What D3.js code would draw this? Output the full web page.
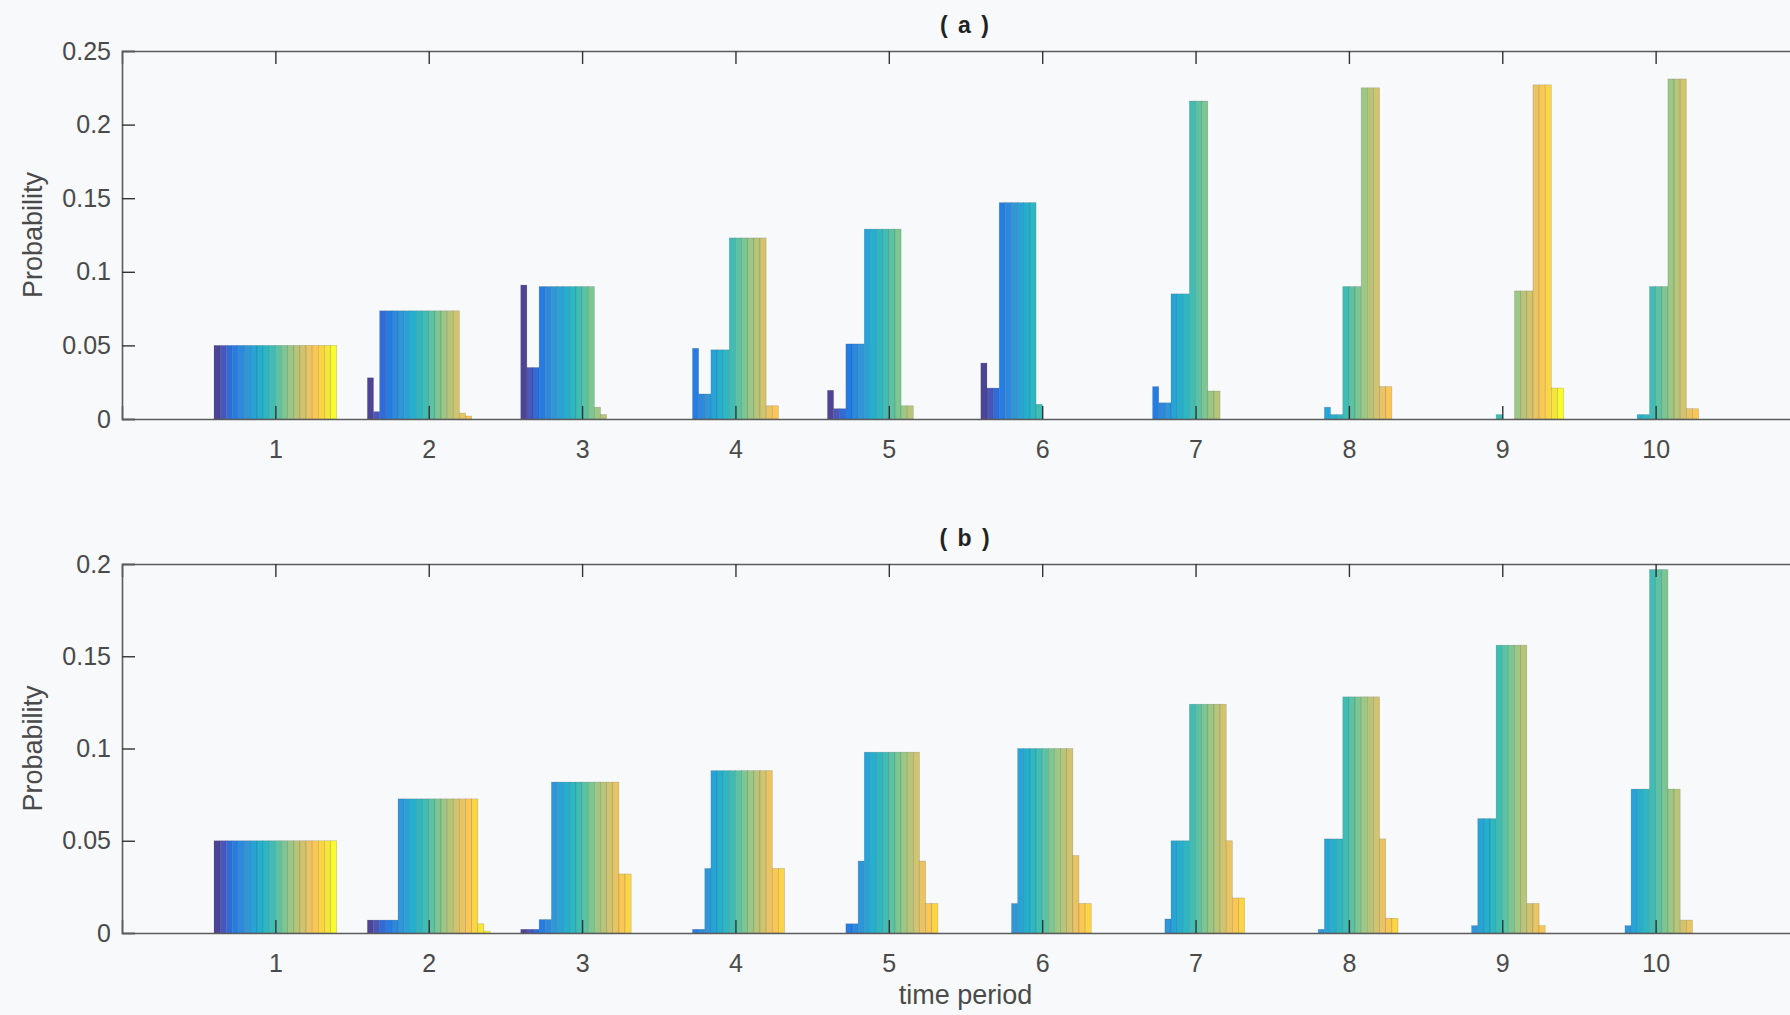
<!DOCTYPE html>
<html>
<head>
<meta charset="utf-8">
<script src="https://cdn.jsdelivr.net/npm/d3@7"></script>
<style>
  body { margin: 0; background: #f7f9fa; }
  svg { display: block; font-family: "Liberation Sans", Arial, Helvetica, sans-serif; }
</style>
</head>
<body>
<div id="chart"></div>
<script>
// time periods on the x axis
const periods = [1, 2, 3, 4, 5, 6, 7, 8, 9, 10];
const yTicksA = [0, 0.05, 0.1, 0.15, 0.2, 0.25];
const yTicksB = [0, 0.05, 0.1, 0.15, 0.2];

// panel (a): one row per time period, 20 states each
const probsA = [
  [0.05, 0.05, 0.05, 0.05, 0.05, 0.05, 0.05, 0.05, 0.05, 0.05, 0.05, 0.05, 0.05, 0.05, 0.05, 0.05, 0.05, 0.05, 0.05, 0.05],
  [0.028, 0.005, 0.0735, 0.0735, 0.0735, 0.0735, 0.0735, 0.0735, 0.0735, 0.0735, 0.0735, 0.0735, 0.0735, 0.0735, 0.0735, 0.004, 0.002, 0, 0, 0],
  [0.091, 0.035, 0.035, 0.09, 0.09, 0.09, 0.09, 0.09, 0.09, 0.09, 0.09, 0.09, 0.008, 0.003, 0, 0, 0, 0, 0, 0],
  [0, 0, 0, 0.048, 0.017, 0.017, 0.047, 0.047, 0.047, 0.123, 0.123, 0.123, 0.123, 0.123, 0.123, 0.009, 0.009, 0, 0, 0],
  [0.0195, 0.007, 0.007, 0.051, 0.051, 0.051, 0.129, 0.129, 0.129, 0.129, 0.129, 0.129, 0.009, 0.009, 0, 0, 0, 0, 0, 0],
  [0.038, 0.021, 0.021, 0.147, 0.147, 0.147, 0.147, 0.147, 0.147, 0.010, 0, 0, 0, 0, 0, 0, 0, 0, 0, 0],
  [0, 0, 0, 0.022, 0.011, 0.011, 0.085, 0.085, 0.085, 0.216, 0.216, 0.216, 0.019, 0.019, 0, 0, 0, 0, 0, 0],
  [0, 0, 0, 0, 0, 0, 0.008, 0.003, 0.003, 0.09, 0.09, 0.09, 0.225, 0.225, 0.225, 0.022, 0.022, 0, 0, 0],
  [0, 0, 0, 0, 0, 0, 0, 0, 0, 0.003, 0, 0, 0.087, 0.087, 0.087, 0.227, 0.227, 0.227, 0.021, 0.021],
  [0, 0, 0, 0, 0, 0, 0, 0.003, 0.003, 0.09, 0.09, 0.09, 0.231, 0.231, 0.231, 0.007, 0.007, 0, 0, 0]
];

// panel (b)
const probsB = [
  [0.05, 0.05, 0.05, 0.05, 0.05, 0.05, 0.05, 0.05, 0.05, 0.05, 0.05, 0.05, 0.05, 0.05, 0.05, 0.05, 0.05, 0.05, 0.05, 0.05],
  [0.007, 0.007, 0.007, 0.007, 0.007, 0.0727, 0.0727, 0.0727, 0.0727, 0.0727, 0.0727, 0.0727, 0.0727, 0.0727, 0.0727, 0.0727, 0.0727, 0.0727, 0.005, 0.001],
  [0.002, 0.002, 0.002, 0.0073, 0.0073, 0.0818, 0.0818, 0.0818, 0.0818, 0.0818, 0.0818, 0.0818, 0.0818, 0.0818, 0.0818, 0.0818, 0.032, 0.032, 0, 0],
  [0, 0, 0, 0.002, 0.002, 0.035, 0.088, 0.088, 0.088, 0.088, 0.088, 0.088, 0.088, 0.088, 0.088, 0.088, 0.035, 0.035, 0, 0],
  [0, 0, 0, 0.005, 0.005, 0.039, 0.098, 0.098, 0.098, 0.098, 0.098, 0.098, 0.098, 0.098, 0.098, 0.039, 0.016, 0.016, 0, 0],
  [0, 0, 0, 0, 0, 0.016, 0.1, 0.1, 0.1, 0.1, 0.1, 0.1, 0.1, 0.1, 0.1, 0.042, 0.016, 0.016, 0, 0],
  [0, 0, 0, 0, 0, 0.0076, 0.05, 0.05, 0.05, 0.124, 0.124, 0.124, 0.124, 0.124, 0.124, 0.05, 0.019, 0.019, 0, 0],
  [0, 0, 0, 0, 0, 0.002, 0.051, 0.051, 0.051, 0.128, 0.128, 0.128, 0.128, 0.128, 0.128, 0.051, 0.008, 0.008, 0, 0],
  [0, 0, 0, 0, 0, 0.004, 0.062, 0.062, 0.062, 0.156, 0.156, 0.156, 0.156, 0.156, 0.016, 0.016, 0.004, 0, 0, 0],
  [0, 0, 0, 0, 0, 0.004, 0.078, 0.078, 0.078, 0.197, 0.197, 0.197, 0.078, 0.078, 0.007, 0.007, 0, 0, 0, 0]
];

// parula colormap anchors (MATLAB default)
const parula = [
  [0.2081, 0.1663, 0.5292], [0.1959, 0.2645, 0.7279], [0.0117, 0.3875, 0.8820],
  [0.0498, 0.4586, 0.8641], [0.0793, 0.5200, 0.8312], [0.0343, 0.5966, 0.8199],
  [0.0228, 0.6535, 0.7768], [0.0843, 0.6928, 0.7062], [0.2178, 0.7250, 0.6193],
  [0.3953, 0.7459, 0.5244], [0.5709, 0.7485, 0.4494], [0.7184, 0.7411, 0.3905],
  [0.8507, 0.7299, 0.3360], [0.9739, 0.7314, 0.2666], [0.9880, 0.8066, 0.1794],
  [0.9589, 0.8949, 0.1132], [0.9763, 0.9831, 0.0538]
];
const parulaPos = [1, 5, 9, 13, 17, 21, 25, 29, 33, 37, 41, 45, 49, 53, 57, 61, 64];

const width = 1790, height = 1015;
const nStates = probsA[0].length;

// the scanned figure looks a little washed out, so lift the colours slightly
const lift = c => 255 * (c + (1 - c) * 0.12);
const cmap = d3.scaleLinear()
  .domain(parulaPos)
  .range(parula.map(c => d3.rgb(lift(c[0]), lift(c[1]), lift(c[2]))))
  .interpolate(d3.interpolateRgb);
const stateColor = i => cmap(1 + 63 * i / (nStates - 1));

const svg = d3.select("#chart").append("svg")
  .attr("width", width)
  .attr("height", height);

svg.append("rect").attr("width", width).attr("height", height).attr("fill", "#f7f9fa");

const x = d3.scaleLinear().domain([0, 11]).range([122, 1809]);
const step = x(1) - x(0);
const inner = d3.scaleBand()
  .domain(d3.range(nStates))
  .range([-0.4 * step, 0.4 * step])
  .paddingInner(0);

const tickLen = 13;
const axisColor = "#5c5c5c";
const textColor = "#4a4a4a";

function drawPanel(data, yTicks, top, bottom, title) {
  const yMax = yTicks[yTicks.length - 1];
  const y = d3.scaleLinear().domain([0, yMax]).range([bottom, top]);
  const g = svg.append("g");

  // bars
  const groups = g.selectAll("g.period")
    .data(data)
    .join("g")
    .attr("class", "period")
    .attr("transform", (d, k) => `translate(${x(periods[k])},0)`);

  groups.selectAll("rect")
    .data(row => row.map((v, i) => ({v, i})).filter(d => d.v > 0))
    .join("rect")
    .attr("x", d => inner(d.i))
    .attr("width", inner.bandwidth())
    .attr("y", d => y(d.v))
    .attr("height", d => y(0) - y(d.v))
    .attr("fill", d => stateColor(d.i))
    .attr("stroke", "#333")
    .attr("stroke-opacity", 0.25)
    .attr("stroke-width", 0.6);

  // axes, drawn on top like MATLAB's box
  const left = g.append("g")
    .attr("transform", `translate(${x(0)},0)`)
    .call(d3.axisLeft(y).tickValues(yTicks).tickSize(-tickLen).tickPadding(11).tickFormat(d => String(d)));
  const right = g.append("g")
    .attr("transform", `translate(${x(11)},0)`)
    .call(d3.axisRight(y).tickValues(yTicks).tickSize(-tickLen).tickFormat(""));
  const bottomAx = g.append("g")
    .attr("transform", `translate(0,${bottom})`)
    .call(d3.axisBottom(x).tickValues(periods).tickSize(-tickLen).tickPadding(21).tickFormat(d3.format("d")));
  const topAx = g.append("g")
    .attr("transform", `translate(0,${top})`)
    .call(d3.axisTop(x).tickValues(periods).tickSize(-tickLen).tickFormat(""));

  [left, right, bottomAx, topAx].forEach(a => {
    a.select(".domain").attr("stroke", axisColor).attr("stroke-width", 1.6);
    a.selectAll(".tick line").attr("stroke", "#333").attr("stroke-width", 1.4);
    a.selectAll(".tick text")
      .attr("fill", textColor)
      .style("font-size", "25px");
  });

  // title
  g.append("text")
    .attr("x", x(5.5))
    .attr("y", top - 18)
    .attr("text-anchor", "middle")
    .attr("fill", "#222")
    .style("font-size", "23px")
    .style("font-weight", "bold")
    .style("letter-spacing", "2px")
    .text(title);

  // y label
  g.append("text")
    .attr("transform", `translate(42,${(top + bottom) / 2}) rotate(-90)`)
    .attr("text-anchor", "middle")
    .attr("fill", textColor)
    .style("font-size", "27px")
    .text("Probability");
}

drawPanel(probsA, yTicksA, 51, 419, "( a )");
drawPanel(probsB, yTicksB, 564, 933, "( b )");

svg.append("text")
  .attr("x", x(5.5))
  .attr("y", 1004)
  .attr("text-anchor", "middle")
  .attr("fill", textColor)
  .style("font-size", "27px")
  .text("time period");
</script>
</body>
</html>
